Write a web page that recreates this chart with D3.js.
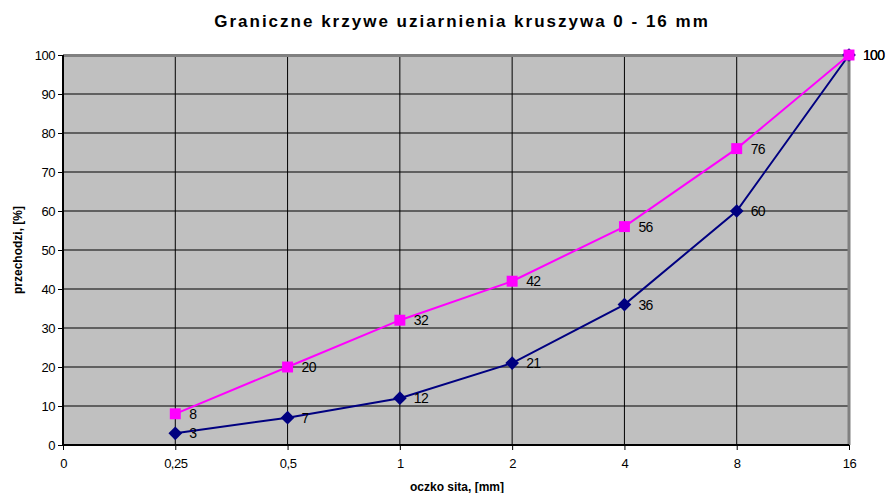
<!DOCTYPE html>
<html>
<head>
<meta charset="utf-8">
<script src="https://cdn.jsdelivr.net/npm/d3@7"></script>
<style>
  body { margin: 0; background: #fff; }
  text { font-family: "Liberation Sans", Arial, sans-serif; }
</style>
</head>
<body>
<div id="chart"></div>
<script>
// Chart data
let sieves = ["0", "0,25", "0,5", "1", "2", "4", "8", "16"];
let upperCurve = [null, 8, 20, 32, 42, 56, 76, 100];
let lowerCurve = [null, 3, 7, 12, 21, 36, 60, 100];
let yTicks = [0, 10, 20, 30, 40, 50, 60, 70, 80, 90, 100];

let svgWidth = 887;
let svgHeight = 493;

let margin = { top: 55, right: 38, bottom: 48, left: 63 };
let chartWidth = svgWidth - margin.left - margin.right;
let chartHeight = svgHeight - margin.top - margin.bottom;

let svg = d3.select("#chart")
  .append("svg")
  .attr("width", svgWidth)
  .attr("height", svgHeight);

let chartGroup = svg.append("g")
  .attr("transform", `translate(${margin.left}, ${margin.top})`);

let xScale = d3.scalePoint()
  .domain(sieves)
  .range([0, chartWidth]);

let yScale = d3.scaleLinear()
  .domain([0, 100])
  .range([chartHeight, 0]);

// plot background
chartGroup.append("rect")
  .attr("width", chartWidth)
  .attr("height", chartHeight)
  .attr("fill", "#c0c0c0");

// gridlines
chartGroup.selectAll(".hgrid")
  .data(yTicks)
  .enter().append("line")
  .attr("x1", 0).attr("x2", chartWidth)
  .attr("y1", d => yScale(d)).attr("y2", d => yScale(d))
  .attr("stroke", "#000").attr("stroke-width", 1);

chartGroup.selectAll(".vgrid")
  .data(sieves)
  .enter().append("line")
  .attr("x1", d => xScale(d)).attr("x2", d => xScale(d))
  .attr("y1", 0).attr("y2", chartHeight)
  .attr("stroke", "#000").attr("stroke-width", 1);

// gray frame top/right
chartGroup.append("path")
  .attr("d", `M0,0.5H${chartWidth}V${chartHeight}`)
  .attr("fill", "none")
  .attr("stroke", "#808080")
  .attr("stroke-width", 3);

// axes
let leftAxis = d3.axisLeft(yScale).tickValues(yTicks).tickSize(5).tickPadding(3);
let bottomAxis = d3.axisBottom(xScale).tickSize(5).tickPadding(9);

let yAxisG = chartGroup.append("g").call(leftAxis);
let xAxisG = chartGroup.append("g")
  .attr("transform", `translate(0, ${chartHeight})`)
  .call(bottomAxis);

[yAxisG, xAxisG].forEach(g => {
  g.select(".domain").attr("stroke", "#000").attr("stroke-width", 2);
  g.selectAll(".tick line").attr("stroke", "#000");
  g.selectAll("text").attr("font-size", 13).attr("fill", "#000")
    .attr("font-family", "'Liberation Sans', Arial, sans-serif")
    .attr("letter-spacing", "-0.5px");
});
xAxisG.select(".domain").attr("d", `M0,0H${chartWidth}`);
yAxisG.select(".domain").attr("d", `M0,${chartHeight}V0`);

// series
let seriesList = [
  { values: lowerCurve, color: "#000080", shape: d3.symbolDiamond2, size: 120 },
  { values: upperCurve, color: "#ff00ff", shape: d3.symbolSquare, size: 120 }
];

let drawLine = d3.line()
  .defined(d => d[1] != null)
  .x(d => xScale(d[0]))
  .y(d => yScale(d[1]));

seriesList.forEach(s => {
  let pts = sieves.map((c, i) => [c, s.values[i]]).filter(d => d[1] != null);

  chartGroup.append("path")
    .attr("d", drawLine(pts))
    .attr("fill", "none")
    .attr("stroke", s.color)
    .attr("stroke-width", 2);

  chartGroup.selectAll(null)
    .data(pts)
    .enter().append("path")
    .attr("d", d3.symbol().type(s.shape).size(s.size))
    .attr("transform", d => `translate(${xScale(d[0])}, ${yScale(d[1])})`)
    .attr("fill", s.color);

  chartGroup.selectAll(null)
    .data(pts)
    .enter().append("text")
    .attr("x", d => xScale(d[0]) + 14)
    .attr("y", d => yScale(d[1]) + 5)
    .attr("font-size", 14)
    .attr("letter-spacing", "-0.7px")
    .text(d => d[1]);
});

// titles
svg.append("text")
  .attr("x", 462)
  .attr("y", 27)
  .attr("text-anchor", "middle")
  .attr("font-size", 17)
  .attr("font-weight", "bold")
  .attr("letter-spacing", "2px")
  .text("Graniczne krzywe uziarnienia kruszywa 0 - 16 mm");

svg.append("text")
  .attr("transform", "translate(22, 250) rotate(-90)")
  .attr("text-anchor", "middle")
  .attr("font-size", 12)
  .attr("font-weight", "bold")
  .text("przechodzi, [%]");

svg.append("text")
  .attr("x", 457)
  .attr("y", 491)
  .attr("text-anchor", "middle")
  .attr("font-size", 12)
  .attr("font-weight", "bold")
  .text("oczko sita, [mm]");
</script>
</body>
</html>
